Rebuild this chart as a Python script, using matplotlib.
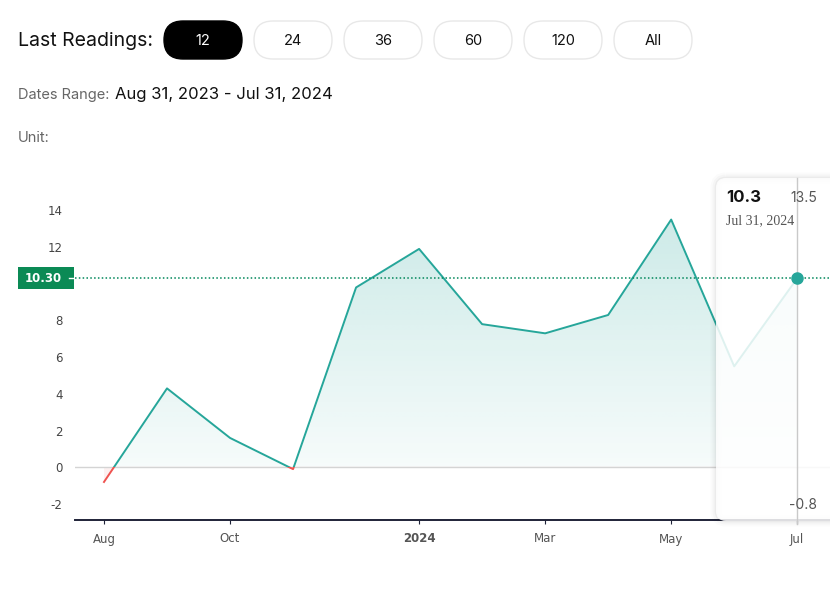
import numpy as np
import matplotlib
matplotlib.use("Agg")
import matplotlib.pyplot as plt
from matplotlib.patches import FancyBboxPatch, Rectangle
from matplotlib.transforms import blended_transform_factory

plt.rcParams["axes.unicode_minus"] = False

# data
months = ["Aug 31, 2023", "Sep 30, 2023", "Oct 31, 2023", "Nov 30, 2023",
          "Dec 31, 2023", "Jan 31, 2024", "Feb 29, 2024", "Mar 31, 2024",
          "Apr 30, 2024", "May 31, 2024", "Jun 30, 2024", "Jul 31, 2024"]
values = [-0.8, 4.3, 1.6, -0.1, 9.8, 11.9, 7.8, 7.3, 8.3, 13.5, 5.5, 10.3]
tick_pos = [0, 2, 5, 7, 9, 11]
tick_labels = ["Aug", "Oct", "2024", "Mar", "May", "Jul"]
y_ticks = [-2, 0, 2, 4, 6, 8, 12, 14]
buttons = ["12", "24", "36", "60", "120", "All"]

TEAL = "#26a69a"
RED = "#ef5350"
GREEN = "#0b8a55"
W, H = 830, 591

fig = plt.figure(figsize=(W / 100, H / 100), dpi=100)

# overlay in pixel coordinates for the page furniture
ov = fig.add_axes([0, 0, 1, 1], zorder=-1)
ov.set_xlim(0, W)
ov.set_ylim(H, 0)
ov.axis("off")

ax = fig.add_axes([75 / W, 1 - 520 / H, (W - 75) / W, 350 / H])
x = np.arange(len(values))
y = np.array(values)
ax.set_xlim(-0.46, 11.52)
ax.set_ylim(-2.872, 16.2)

# gradient fill between line and zero
poly = ax.fill_between(x, y, 0, facecolor="none", edgecolor="none")
ys = np.linspace(16.2, -2.872, 400)
grad = np.zeros((len(ys), 2, 4))
teal_rgb = matplotlib.colors.to_rgb(TEAL)
red_rgb = matplotlib.colors.to_rgb(RED)
for i, v in enumerate(ys):
    if v >= 0:
        grad[i, :, :3] = teal_rgb
        grad[i, :, 3] = 0.04 + 0.19 * min(v / 13.5, 1.0)
    else:
        grad[i, :, :3] = red_rgb
        grad[i, :, 3] = 0.08
im = ax.imshow(grad, extent=[-0.46, 11.52, -2.872, 16.2], aspect="auto",
               interpolation="bilinear", zorder=1)
im.set_clip_path(poly.get_paths()[0], transform=ax.transData)

ax.axhline(0, color="#d4d4d4", lw=1, zorder=2)

# line: teal above zero, red below
top = Rectangle((-1, 0), 14, 30, transform=ax.transData)
bot = Rectangle((-1, -30), 14, 30, transform=ax.transData)
l1, = ax.plot(x, y, color=TEAL, lw=1.4, zorder=3)
l1.set_clip_path(top)
l2, = ax.plot(x, y, color=RED, lw=1.4, zorder=3)
l2.set_clip_path(bot)

for s in ["top", "right", "left"]:
    ax.spines[s].set_visible(False)
ax.spines["bottom"].set_color("#1f2338")
ax.spines["bottom"].set_linewidth(1.4)
ax.set_xticks(tick_pos)
ax.set_xticklabels(tick_labels)
for lab in ax.get_xticklabels():
    if lab.get_text() == "2024":
        lab.set_fontweight("bold")
        lab.set_color("#333333")
ax.tick_params(axis="x", length=3, color="#1f2338", labelsize=8.5,
               labelcolor="#555555", pad=6)
ax.set_yticks(y_ticks)
ax.tick_params(axis="y", length=0, labelsize=8.5, labelcolor="#444444", pad=9)
ax.set_facecolor("white")

# tooltip with a soft outer shadow
px = ov.transData
for k, a in [(8, 0.015), (5, 0.025), (2, 0.04)]:
    ax.add_patch(FancyBboxPatch((716, 178), 140, 343,
                                boxstyle="round,pad=0,rounding_size=10",
                                fc="none", ec="black", lw=k, alpha=a,
                                transform=px, clip_on=False, zorder=4))
ax.add_patch(FancyBboxPatch((716, 178), 140, 343,
                            boxstyle="round,pad=0,rounding_size=10",
                            fc="white", ec="none", alpha=0.85, transform=px,
                            clip_on=False, zorder=5))
bl = blended_transform_factory(ax.transData, px)
ax.plot([11, 11], [178, 524], color="#c9c9c9", lw=1, transform=bl,
        clip_on=False, zorder=6)
ax.axhline(10.3, color="#00875a", ls=(0, (1, 1.5)), lw=1.1, zorder=7)
ax.plot(11, values[-1], "o", color=TEAL, ms=8, zorder=8, clip_on=False)

ax.text(726, 197, "10.3", transform=px, fontsize=12, fontweight="bold",
        color="#111111", va="center", ha="left", zorder=9, family="Inter")
ax.text(817, 198, "13.5", transform=px, fontsize=10, color="#555555",
        va="center", ha="right", zorder=9, family="Inter")
ax.text(726, 221, months[-1], transform=px, fontsize=10, color="#555555",
        va="center", ha="left", zorder=9, family="Liberation Serif")
ax.text(817, 505, "-0.8", transform=px, fontsize=10, color="#555555",
        va="center", ha="right", zorder=9, family="Inter")

# current value label on the y axis
ov.add_patch(Rectangle((18, 267), 56, 22, fc=GREEN, ec="none"))
ov.text(62, 278.5, "10.30", color="white", fontsize=8.5, fontweight="bold",
        ha="right", va="center")
ov.plot([69, 73], [278, 278], color="white", lw=1)

# header
ov.text(18, 41, "Last Readings:", fontsize=14, color="#111111", va="center",
        ha="left", family="Inter")
for i, b in enumerate(buttons):
    bx = 164 + 90 * i
    dark = i == 0
    ov.add_patch(FancyBboxPatch((bx, 21), 78, 38,
                                boxstyle="round,pad=0,rounding_size=19",
                                fc="black" if dark else "white",
                                ec="black" if dark else "#e8e8e8", lw=1))
    ov.text(bx + 39, 41, b, fontsize=10.5, color="white" if dark else "#111111",
            ha="center", va="center", family="Inter")

ov.text(18, 95, "Dates Range:", fontsize=10.5, color="#666666", va="center",
        ha="left", family="Inter")
ov.text(115, 94, months[0] + " - " + months[-1], fontsize=12, color="#111111",
        va="center", ha="left", family="Inter")
ov.text(18, 138, "Unit:", fontsize=10.5, color="#666666", va="center",
        ha="left", family="Inter")

fig.savefig("out.png", dpi=100, facecolor="white")
